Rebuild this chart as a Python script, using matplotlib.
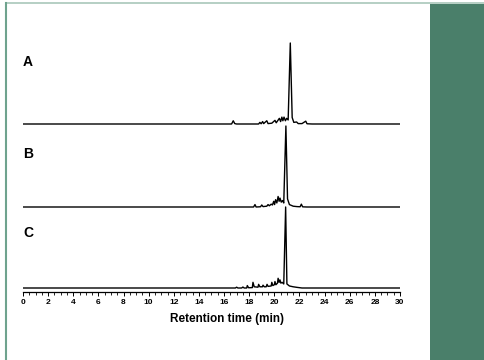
import matplotlib
matplotlib.use('Agg')
import matplotlib.pyplot as plt
from matplotlib.patches import Rectangle
from matplotlib.lines import Line2D

plt.rcParams['font.family'] = ['Liberation Sans', 'DejaVu Sans']

# chromatograms, intensity in % of the main peak
time_a = [0, 16.6, 16.73, 16.85, 17.0, 18.75, 18.85, 18.95, 19.07, 19.15, 19.4, 19.5, 19.8,
          20.05, 20.15, 20.4, 20.5, 20.6, 20.68, 20.77, 20.88, 20.98, 21.1, 21.27, 21.42,
          21.55, 21.77, 21.9, 22.2, 22.5, 22.6, 23.0, 30]
int_a = [0, 0, 4, 0.5, 0, 0, 2, 0.3, 3, 0.5, 4, 0.5, 1,
         4.5, 1.5, 7, 3, 8.5, 4, 8.5, 4, 7, 5, 100, 8,
         2, 2.5, 0.5, 0.5, 3.5, 0.3, 0, 0]

time_b = [0, 18.35, 18.46, 18.55, 18.9, 19.0, 19.1, 19.4, 19.5, 19.6, 19.75, 19.85, 19.95,
          20.02, 20.1, 20.2, 20.3, 20.38, 20.45, 20.55, 20.65, 20.75, 20.92, 21.05, 21.2,
          21.5, 21.8, 22.05, 22.15, 22.25, 22.6, 30]
int_b = [0, 0, 3, 0, 0.3, 2.5, 0.5, 1, 3, 1.5, 3.5, 2.5, 7,
         3, 9, 5, 13, 7, 11, 6, 8, 5, 100, 10, 3,
         1, 0.5, 0.3, 3.5, 0.2, 0, 0]

time_c = [0, 16.9, 17.0, 17.1, 17.4, 17.5, 17.6, 17.8, 17.85, 17.95, 18.25, 18.3, 18.4,
          18.7, 18.75, 18.85, 19.05, 19.1, 19.2, 19.35, 19.42, 19.5, 19.75, 19.8, 19.88,
          20.0, 20.05, 20.12, 20.25, 20.3, 20.38, 20.45, 20.52, 20.62, 20.75, 20.9, 21.0,
          21.2, 21.5, 21.8, 22.2, 30]
int_c = [0, 0, 1, 0, 0, 1.2, 0, 0, 3, 0.3, 0.5, 7, 1.5,
         1, 4.5, 1.5, 1.5, 3.5, 1.5, 1.5, 4.5, 2, 2.5, 7, 3,
         4, 8, 4, 6, 12, 7, 10, 6, 7, 5, 100, 5,
         2.5, 1.5, 0.8, 0, 0]

labels = ['A', 'B', 'C']
x_ticks = list(range(0, 31, 2))


def main():
    fig = plt.figure(figsize=(4.85, 3.6), dpi=100)
    W, H = 485.0, 360.0

    # frame decoration
    fig.patches.append(Rectangle((430 / W, 0), 55 / W, 1 - 4 / H, transform=fig.transFigure,
                                 facecolor='#4a7f6a', edgecolor='none'))
    fig.lines.append(Line2D([6 / W, 1], [1 - 3 / H, 1 - 3 / H], transform=fig.transFigure,
                            color='#a9c7ba', linewidth=1.2))
    fig.lines.append(Line2D([6 / W, 6 / W], [0, 1 - 3 / H], transform=fig.transFigure,
                            color='#6fa38e', linewidth=1.5))

    ax = fig.add_axes([23 / W, 1 - 292 / H, 377 / W, 252 / H])
    scale = 0.81
    for t, y, off in [(time_a, int_a, 168), (time_b, int_b, 85), (time_c, int_c, 4)]:
        ax.plot(t, [off + v * scale for v in y], color='black', linewidth=1.0)

    ax.set_xlim(0, 30)
    ax.set_ylim(0, 252)
    for s in ['left', 'right', 'top']:
        ax.spines[s].set_visible(False)
    ax.spines['bottom'].set_linewidth(0.9)
    ax.set_yticks([])
    ax.set_xticks(x_ticks)
    ax.set_xticks([i * 0.5 for i in range(61)], minor=True)
    ax.tick_params(axis='x', which='major', length=3, width=0.7, pad=2, labelsize=6)
    ax.tick_params(axis='x', which='minor', length=2, width=0.6)
    for lab in ax.get_xticklabels():
        lab.set_fontweight('bold')

    fig.text(227 / W, 1 - 319 / H, 'Retention time (min)', ha='center', va='center',
             fontsize=8.5, fontweight='bold')
    for lab, py in zip(labels, [62, 154, 233]):
        fig.text(28 / W, 1 - py / H, lab, ha='center', va='center', fontsize=10, fontweight='bold')

    plt.savefig('out.png', dpi=100)


if __name__ == "__main__":
    main()
